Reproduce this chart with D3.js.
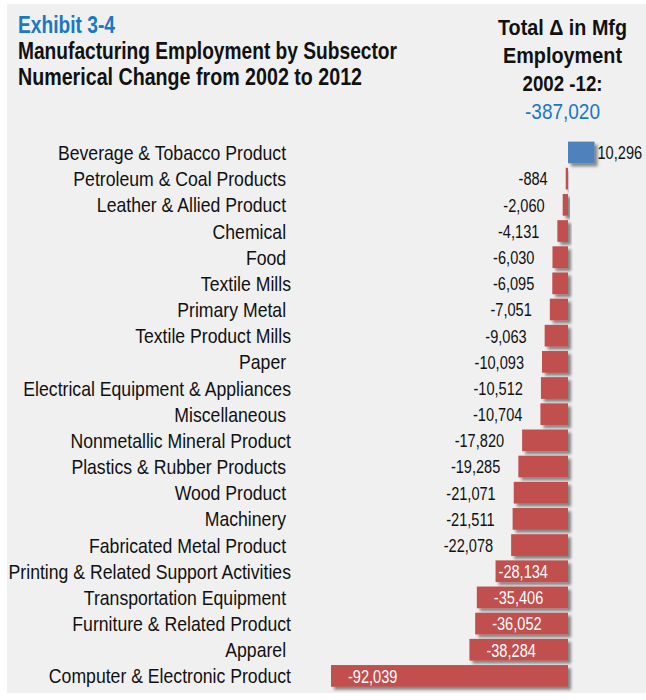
<!DOCTYPE html>
<html>
<head>
<meta charset="utf-8">
<script src="https://cdn.jsdelivr.net/npm/d3@7"></script>
<style>
  html, body { margin: 0; padding: 0; background: #ffffff; }
  svg { display: block; }
  text { font-family: "Liberation Sans", Arial, sans-serif; }
</style>
</head>
<body>
<svg id="chart" width="646" height="700"></svg>
<script>
// Subsectors, top to bottom (trailing spaces are part of the source labels)
const categories = [
  "Beverage & Tobacco Product ",
  "Petroleum & Coal Products ",
  "Leather & Allied Product ",
  "Chemical ",
  "Food ",
  "Textile Mills",
  "Primary Metal ",
  "Textile Product Mills",
  "Paper ",
  "Electrical Equipment & Appliances",
  "Miscellaneous ",
  "Nonmetallic Mineral Product",
  "Plastics & Rubber Products ",
  "Wood Product ",
  "Machinery ",
  "Fabricated Metal Product ",
  "Printing & Related Support Activities",
  "Transportation Equipment ",
  "Furniture & Related Product",
  "Apparel ",
  "Computer & Electronic Product"
];

// Numerical change in employment, 2002 to 2012
const changes = [
  10296, -884, -2060, -4131, -6030, -6095, -7051, -9063, -10093, -10512,
  -10704, -17820, -19285, -21071, -21511, -22078, -28134, -35406, -36052,
  -38284, -92039
];

const titleLines = ["Manufacturing Employment by Subsector", "Numerical Change from 2002 to 2012"];
const exhibitLabel = "Exhibit 3-4";
const totalLines = ["Total \u0394 in Mfg", "Employment", "2002 -12:"];
const totalValue = -387020;

const svg = d3.select("#chart");
const comma = d3.format(",");
const fmt = v => comma(v).replace("\u2212", "-");

// Arial-Narrow-like rendering: squeeze each text horizontally
function squeeze(sel, factor) {
  sel.each(function () {
    const w = this.getComputedTextLength();
    d3.select(this).attr("textLength", w * factor).attr("lengthAdjust", "spacingAndGlyphs");
  });
}
function fitTo(sel, widths) {
  sel.each(function (d, i) {
    d3.select(this).attr("textLength", widths[i]).attr("lengthAdjust", "spacingAndGlyphs");
  });
}

// shadow under bars
const defs = svg.append("defs");
const f = defs.append("filter").attr("id", "shadow")
  .attr("x", "-20%").attr("y", "-30%").attr("width", "150%").attr("height", "180%");
f.append("feDropShadow").attr("dx", 3).attr("dy", 3).attr("stdDeviation", 1.8)
  .attr("flood-color", "#000").attr("flood-opacity", 0.45);

// panel
svg.append("rect").attr("x", 7).attr("y", 4).attr("width", 639).attr("height", 689)
  .attr("fill", "#f0f0f0");

// titles
svg.append("text").attr("x", 18).attr("y", 32.5)
  .attr("font-size", 24.5).attr("font-weight", "bold").attr("fill", "#1a78c2").text(exhibitLabel)
  .call(fitTo, [97]);
svg.selectAll("text.title").data(titleLines).join("text")
  .attr("class", "title")
  .attr("x", 18).attr("y", (d, i) => 59.3 + i * 26)
  .attr("font-size", 24.5).attr("font-weight", "bold").attr("fill", "#111").text(d => d)
  .call(fitTo, [379, 344]);

const tg = svg.append("g").attr("text-anchor", "middle");
tg.selectAll("text.tot").data(totalLines).join("text")
  .attr("class", "tot")
  .attr("x", 562.5).attr("y", (d, i) => 35 + i * 28)
  .attr("font-size", 21.5).attr("font-weight", "bold").attr("fill", "#111").text(d => d)
  .call(fitTo, [129, 119, 80]);
tg.append("text").attr("x", 562.5).attr("y", 119)
  .attr("font-size", 21.5).attr("fill", "#1a78c2").text(fmt(totalValue))
  .call(fitTo, [75]);

// scales
const x = d3.scaleLinear()
  .domain([d3.min(changes), d3.max(changes)])
  .range([331, 331 + (d3.max(changes) - d3.min(changes)) * (237 / -d3.min(changes))]);
const y = d3.scaleBand().domain(categories).range([139.4, 689])
  .paddingInner(0.17).paddingOuter(0.085);

const data = categories.map((c, i) => ({ c, v: changes[i] }));

// bars
svg.append("g").selectAll("rect").data(data).join("rect")
  .attr("x", d => x(Math.min(0, d.v)))
  .attr("y", d => y(d.c))
  .attr("width", d => Math.abs(x(d.v) - x(0)))
  .attr("height", y.bandwidth())
  .attr("fill", d => d.v >= 0 ? "#4f81bd" : "#c0504d")
  .attr("filter", "url(#shadow)");

// category labels
svg.append("g").selectAll("text").data(data).join("text")
  .attr("x", 291)
  .attr("y", d => y(d.c) + y.bandwidth() / 2)
  .attr("dy", "0.36em")
  .attr("text-anchor", "end")
  .attr("font-size", 21)
  .attr("fill", "#111")
  .style("white-space", "pre")
  .text(d => d.c)
  .call(squeeze, 0.84);

// value labels
const vl = svg.append("g").selectAll("text").data(data).join("text")
  .attr("y", d => y(d.c) + y.bandwidth() / 2)
  .attr("dy", "0.38em")
  .attr("font-size", 18)
  .text(d => fmt(d.v))
  .call(squeeze, 0.81);

vl.each(function (d) {
  const t = d3.select(this);
  const w = +t.attr("textLength");
  const barW = Math.abs(x(d.v) - x(0));
  if (d.v >= 0) {
    t.attr("x", x(d.v) + 3).attr("text-anchor", "start").attr("fill", "#111");
  } else if (barW > 65) {
    const lx = Math.min(x(d.v) + 17, x(0) - w - 20);
    t.attr("x", lx).attr("text-anchor", "start").attr("fill", "#fff");
  } else {
    t.attr("x", x(d.v) - 18).attr("text-anchor", "end").attr("fill", "#111");
  }
});
</script>
</body>
</html>
